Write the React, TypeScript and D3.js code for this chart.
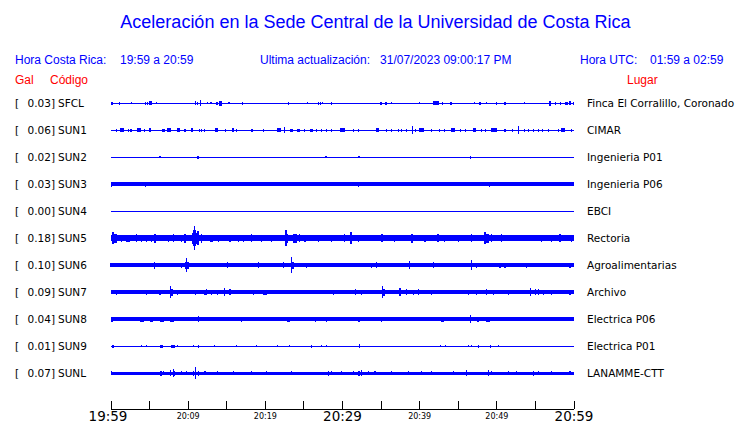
import React from 'react';
import * as d3 from 'd3';

// Stations, peak values and locations
const stations = ['SFCL', 'SUN1', 'SUN2', 'SUN3', 'SUN4', 'SUN5', 'SUN6', 'SUN7', 'SUN8', 'SUN9', 'SUNL'];
const peakGal = [0.03, 0.06, 0.02, 0.03, 0.0, 0.18, 0.1, 0.09, 0.04, 0.01, 0.07];
const places = [
  'Finca El Corralillo, Coronado',
  'CIMAR',
  'Ingenieria P01',
  'Ingenieria P06',
  'EBCI',
  'Rectoria',
  'Agroalimentarias',
  'Archivo',
  'Electrica P06',
  'Electrica P01',
  'LANAMME-CTT',
];
// background noise half-amplitude of each trace
const noiseAmp = [0.5, 0.5, 0.5, 1.6, 0.5, 3, 1.6, 1.6, 1.7, 0.5, 1.5];

// bursts: [minutes after 19:59, half amplitude, duration in s]
type Burst = [number, number, number?];
const burstsSFCL: Burst[] = [
  [0.09, 1.5, 16], [1.08, 1.5], [2.68, 1], [4.41, 1.5], [4.75, 1.5], [5.1, 2, 24], [5.92, 1],
  [10.97, 2], [11.23, 1.5], [11.66, 3], [12.53, 1], [12.96, 1], [13.69, 1.5, 16], [14.2, 2.5, 24],
  [15.29, 1], [17.06, 1.5], [22.94, 1.5], [25.44, 1], [26.87, 1.5], [27.1, 1.5], [27.43, 1],
  [28.6, 1.5], [34.99, 1.5], [35.64, 1.5, 16], [36.29, 1], [40.04, 1], [42.1, 2, 48], [42.94, 1.5],
  [44.02, 1.5, 16], [47.08, 1], [47.82, 1.5], [48.6, 1], [49.98, 1.5], [51.06, 1.5], [53.56, 1],
  [56.89, 2.5, 16], [57.63, 1.5], [58.19, 1.5], [59.05, 1.5, 24], [59.5, 2, 16], [59.91, 1.5],
];
const burstsSUN1: Burst[] = [
  [0.73, 1.5], [1.47, 2, 32], [2.24, 1.5], [2.59, 1.5], [3.58, 2, 32], [4.32, 1.5], [5.05, 2, 16],
  [6.78, 1.5, 24], [7.47, 2, 32], [8.72, 2, 24], [9.59, 1.5], [10.54, 2, 16], [11.45, 1.5],
  [11.75, 1.5], [12.09, 1.5], [13.69, 2, 24], [14.86, 1.5], [15.85, 2, 16], [16.28, 1.5],
  [18.31, 1.5, 16], [19.74, 1.5], [21.77, 2, 32], [22.46, 3], [23.41, 1.5, 24], [24.28, 1.5, 24],
  [25.05, 1.5], [26.0, 1.5, 24], [26.65, 1.5], [27.3, 1.5], [27.95, 1.5], [28.6, 1.5],
  [30.02, 2, 40], [31.4, 1.5], [32.05, 1.5], [34.56, 2, 24], [35.72, 1.5], [36.29, 1.5],
  [37.24, 1.5], [37.67, 1.5], [38.32, 1.5], [39.05, 4], [39.4, 1.5], [40.26, 2, 40], [41.56, 1.5],
  [42.55, 1.5], [43.28, 1.5], [44.32, 2, 24], [45.23, 1.5], [45.88, 1.5], [47.09, 2, 24],
  [48.04, 1.5], [48.47, 1.5], [49.63, 2, 40], [51.06, 1.5], [52.01, 1.5], [52.87, 4], [53.57, 1.5],
  [54.08, 1.5], [54.73, 1.5], [55.38, 1.5], [55.9, 1.5], [56.68, 1.5], [57.97, 1.5], [58.62, 2, 32],
  [59.7, 1.5],
];
const burstsSUN2: Burst[] = [[6.35, 1], [11.23, 1.5, 16], [27.86, 1], [32.14, 1.2], [46.61, 1.5]];
const burstsSUN3: Burst[] = [
  [0.08, 2.5], [4.49, 2.5], [11.19, 2], [24.49, 2], [27.65, 2], [32.05, 2.5], [49.03, 2.5],
];
const burstsSUN4: Burst[] = [];
const burstsSUN5: Burst[] = [
  [0.3, 6, 16], [0.5, 4.5, 40], [0.73, 4], [1.38, 3.5], [2.2, 3.5, 24], [3.32, 4], [3.97, 3.5],
  [4.62, 3.5], [5.27, 3.5], [5.7, 4.5, 16], [7.43, 3.5], [8.08, 4], [9.16, 3.5], [9.59, 4.5],
  [10.8, 12, 8], [10.85, 8, 24], [10.9, 5.5, 56], [11.23, 7, 16], [11.75, 4.5], [13.04, 3.5, 24],
  [13.91, 3.5], [15.42, 3.5], [16.5, 3.5], [17.15, 3.5], [18.23, 4], [19.52, 3.5], [20.82, 3.5],
  [22.68, 8], [22.8, 4.5, 24], [23.84, 4.5, 24], [24.49, 4], [25.14, 3.5], [26.87, 3.5],
  [28.6, 3.5], [30.32, 4], [31.06, 6, 16], [32.05, 3.5], [33.78, 3], [35.08, 4, 16], [36.8, 3.5],
  [38.96, 4.5, 16], [40.69, 3.5], [42.42, 4, 16], [43.28, 3.5], [45.01, 3.5], [46.74, 4],
  [48.47, 6, 16], [48.7, 4.5, 32], [49.33, 4], [50.63, 4], [51.92, 3], [55.81, 3.5], [57.11, 3.5],
  [58.19, 4, 16], [59.7, 3.5],
];
const burstsSUN6: Burst[] = [
  [0.08, 2, 24], [5.7, 3.5], [6.78, 2], [9.16, 2.5], [9.8, 7], [9.85, 3.5, 24], [10.45, 2],
  [12.4, 2], [15.12, 3], [17.8, 2], [19.09, 3], [19.52, 2], [20.82, 1.5], [22.33, 3], [23.41, 8],
  [23.5, 3.5, 24], [25.36, 2.5], [29.03, 2], [31.62, 2], [32.7, 2], [33.78, 2.5], [34.43, 3],
  [38.62, 4], [40.48, 2], [41.77, 3], [46.74, 5], [47.39, 2.5], [48.47, 2], [50.41, 2.5],
  [51.06, 2.5], [53.87, 2.5], [56.68, 2], [59.48, 2.5],
];
const burstsSUN7: Burst[] = [
  [0.73, 2.5], [4.62, 2.5], [5.61, 2], [6.35, 2.5], [7.77, 6], [7.85, 3.5, 24], [8.64, 2.5],
  [10.97, 2.5], [12.18, 2.5], [12.4, 3], [13.04, 2.5], [13.82, 2.5], [14.77, 4], [15.42, 3],
  [18.44, 2.5], [19.96, 2.5, 24], [24.06, 2], [25.79, 2], [28.81, 2.5], [31.71, 3], [32.48, 2.5],
  [33.35, 2], [35.21, 6], [35.3, 3.5, 24], [37.45, 4], [38.32, 3], [39.18, 2.5], [39.83, 3],
  [41.56, 2.5], [42.85, 2], [44.15, 2], [45.23, 2], [46.31, 2.5], [47.39, 2.5], [48.68, 3],
  [49.55, 2.5], [50.63, 2], [51.49, 2.5], [54.34, 4], [54.95, 3], [55.38, 3], [56.03, 2.5],
  [57.11, 2.5], [59.48, 2.5],
];
const burstsSUN8: Burst[] = [
  [0.08, 2.5, 16], [1.38, 2], [2.03, 2], [4.06, 2.5, 32], [5.27, 2.5, 24], [6.65, 2.5, 32],
  [7.95, 2.5, 32], [9.37, 2], [10.02, 2], [10.67, 2], [11.32, 3], [12.83, 2, 24], [15.2, 2],
  [16.28, 2], [16.93, 2.5], [18.88, 2], [21.47, 2], [22.98, 2.5, 24], [23.84, 2], [25.14, 2],
  [25.79, 2], [26.44, 2.5], [27.08, 2], [27.95, 2.5], [30.54, 2], [32.14, 2.5, 16], [33.78, 2],
  [35.08, 2.5], [37.24, 2], [38.1, 2], [38.96, 2], [42.2, 2], [42.94, 2.5, 24], [43.93, 2],
  [44.8, 2], [46.61, 4], [47.6, 2.5, 16], [48.9, 2.5, 32], [50.41, 2], [51.71, 2], [53.65, 2],
  [54.73, 2], [55.81, 2], [56.68, 2], [57.97, 2], [59.27, 2],
];
const burstsSUN9: Burst[] = [
  [0.3, 1.5, 16], [3.97, 1], [4.62, 1], [6.56, 1.5, 24], [7.99, 1.5, 32], [8.64, 1], [10.67, 1],
  [11.4, 1.5], [13.39, 1], [16.28, 1], [18.88, 1], [21.6, 1], [23.11, 1], [25.92, 1.5], [27.3, 1],
  [27.95, 1], [32.18, 2], [42.64, 1], [43.37, 1], [46.31, 1], [46.74, 1], [47.6, 1.5], [49.12, 1.5],
  [50.2, 1],
];
const burstsSUNL: Burst[] = [
  [0.08, 2], [6.48, 2.5], [6.78, 2], [7.77, 3], [8.08, 4], [8.29, 2.5], [9.16, 2], [9.8, 2],
  [10.67, 2.5], [10.97, 6], [11.32, 2.5], [12.18, 2], [13.82, 2], [15.85, 2], [18.23, 2],
  [20.17, 2], [23.41, 2], [28.16, 2.5], [28.6, 2], [29.89, 2], [31.4, 2], [32.14, 2.5], [32.48, 3],
  [33.35, 2], [34.21, 2], [36.37, 2], [38.53, 2], [40.26, 2], [41.56, 2], [44.36, 2], [46.09, 3],
  [48.9, 3], [49.33, 2], [51.49, 2], [52.57, 2], [54.73, 2.5], [55.38, 2], [57.11, 2], [59.48, 2],
];
const bursts = [
  burstsSFCL, burstsSUN1, burstsSUN2, burstsSUN3, burstsSUN4, burstsSUN5,
  burstsSUN6, burstsSUN7, burstsSUN8, burstsSUN9, burstsSUNL,
];

// axis ticks every 5 minutes, labels every 10
const tickMinutes = [0, 5, 10, 15, 20, 25, 30, 35, 40, 45, 50, 55, 60];
const tickLabels = ['19:59', '', '20:09', '', '20:19', '', '20:29', '', '20:39', '', '20:49', '', '20:59'];
const bigLabels = ['19:59', '20:29', '20:59'];

const BLUE = '#0000ff';
const RED = '#ff0000';
const HEAD_FONT = 'Liberation Sans, Arial, sans-serif';
const LABEL_FONT = 'DejaVu Sans, sans-serif';

const start = new Date(2023, 6, 31, 19, 59);
const atMin = (m: number) => new Date(start.getTime() + m * 60000);

const App: React.FC = () => {
  const width = 740;
  const height = 423;

  const x = d3.scaleTime().domain([atMin(0), atMin(60)]).range([111, 574]);
  const y = d3.scalePoint<string>().domain(stations).range([103, 373]);
  const amp = d3.scaleLinear().domain([0, 13.5]).range([0, 13.5]);
  const axisY = 409;

  return (
    <svg
      width={width}
      height={height}
      style={{ position: 'absolute', left: 0, top: 0, background: '#fff' }}
    >
      <text x={375.5} y={28} textAnchor='middle' fill={BLUE} fontFamily={HEAD_FONT} fontSize={18}>
        Aceleración en la Sede Central de la Universidad de Costa Rica
      </text>

      <g fontFamily={HEAD_FONT} fontSize={12} fill={BLUE}>
        <text x={15} y={64}>Hora Costa Rica:</text>
        <text x={120} y={64}>19:59 a 20:59</text>
        <text x={260} y={64} xmlSpace='preserve'>Ultima actualización:   31/07/2023 09:00:17 PM</text>
        <text x={580} y={64}>Hora UTC:</text>
        <text x={650} y={64}>01:59 a 02:59</text>
      </g>
      <g fontFamily={HEAD_FONT} fontSize={12} fill={RED}>
        <text x={15} y={84}>Gal</text>
        <text x={50} y={84}>Código</text>
        <text x={627} y={84}>Lugar</text>
      </g>

      {stations.map((s, i) => {
        const yc = y(s) as number;
        return (
          <g key={s}>
            <g fontFamily={LABEL_FONT} fontSize={10.5} fill='#000'>
              <text x={15} y={yc + 4}>[</text>
              <text x={55} y={yc + 4} textAnchor='end'>{peakGal[i].toFixed(2)}]</text>
              <text x={58} y={yc + 4}>{s}</text>
              <text x={587} y={yc + 4}>{places[i]}</text>
            </g>
            <g fill={BLUE} shapeRendering='crispEdges'>
              <rect
                x={x(atMin(0))}
                width={x(atMin(60)) - x(atMin(0))}
                y={yc - amp(noiseAmp[i])}
                height={Math.max(1, 2 * amp(noiseAmp[i]))}
              />
              {bursts[i].map(([m, a, dur = 8], j) => {
                const x0 = x(atMin(m));
                const w = Math.max(1, x(atMin(m + dur / 60)) - x0);
                return (
                  <rect
                    key={j}
                    x={x0 - w / 2}
                    width={w}
                    y={yc - amp(a)}
                    height={2 * amp(a)}
                  />
                );
              })}
            </g>
          </g>
        );
      })}

      <g shapeRendering='crispEdges' stroke='#000'>
        <line x1={x(atMin(0))} x2={x(atMin(60))} y1={axisY} y2={axisY} />
        {tickMinutes.map((m) => (
          <line key={m} x1={x(atMin(m))} x2={x(atMin(m))} y1={axisY} y2={axisY - 8} />
        ))}
      </g>
      {tickMinutes.map((m, i) => {
        const label = tickLabels[i];
        if (!label) return null;
        const big = bigLabels.includes(label);
        return (
          <text
            key={m}
            x={x(atMin(m)) - (i === 0 ? 3 : 0)}
            y={big ? 421 : 419}
            textAnchor='middle'
            fontFamily={LABEL_FONT}
            fontSize={big ? 13.5 : 8}
            fill='#000'
          >
            {label}
          </text>
        );
      })}
    </svg>
  );
};

export default App;
